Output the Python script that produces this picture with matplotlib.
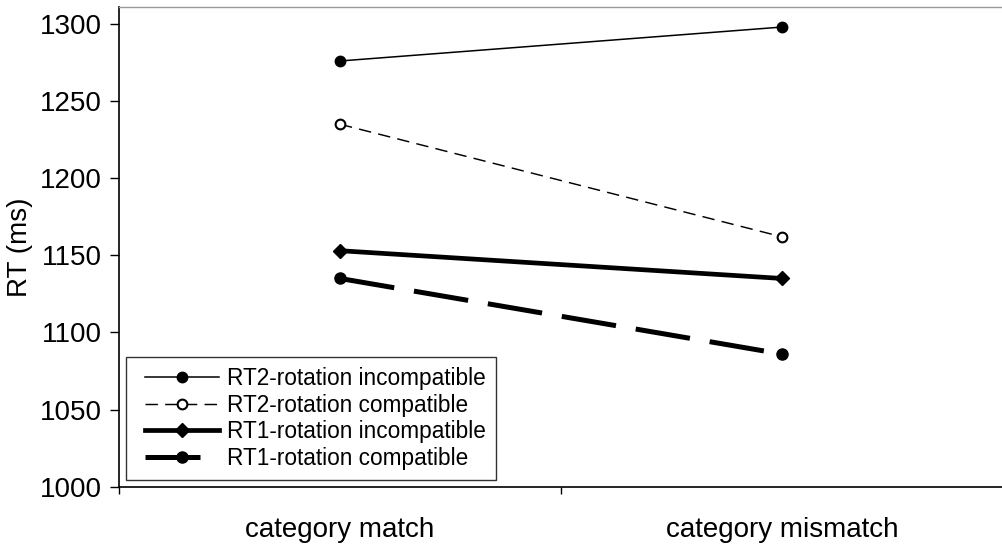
import matplotlib.pyplot as plt
from matplotlib.legend_handler import HandlerLine2D

plt.rcParams['font.family'] = ['Liberation Sans', 'DejaVu Sans']

categories = ['category match', 'category mismatch']
rt2_incompatible = [1276, 1298]
rt2_compatible = [1235, 1162]
rt1_incompatible = [1153, 1135]
rt1_compatible = [1135, 1086]

fig = plt.figure(figsize=(10.03, 5.45), dpi=100)
ax = fig.add_axes([119 / 1003, 1 - 486.7 / 545, 884 / 1003, 479.7 / 545])

x = list(range(len(categories)))

l1, = ax.plot(x, rt2_incompatible, color='black', lw=1.1, marker='o', ms=7.5,
              mfc='black', mec='black', label='RT2-rotation incompatible')
l2, = ax.plot(x, rt2_compatible, color='black', lw=1.05, dashes=(8.5, 5), marker='o', ms=7,
              mfc='white', mec='black', mew=1.5, label='RT2-rotation compatible')
l3, = ax.plot(x, rt1_incompatible, color='black', lw=3.4, marker='D', ms=7,
              mfc='black', mec='black', label='RT1-rotation incompatible')
l4, = ax.plot(x, rt1_compatible, color='black', lw=3.6, dashes=(11, 4), marker='o', ms=8,
              mfc='black', mec='black', label='RT1-rotation compatible')

ax.set_ylim(1000, 1311)
ax.set_xlim(-0.5, -0.5 + 884 / 448)
ax.set_yticks(range(1000, 1301, 50))
ax.tick_params(axis='y', direction='out', length=6.5, width=1, labelsize=20, pad=6)

# boundary ticks without labels, category names at the centres
ax.set_xticks([-0.5, 0.5, 1.5])
ax.set_xticklabels([])
ax.tick_params(axis='x', which='major', direction='out', length=5, width=1)
ax.set_xticks(x, minor=True)
ax.set_xticklabels(categories, minor=True)
ax.tick_params(axis='x', which='minor', length=0, labelsize=20, pad=22)

ax.set_ylabel('RT (ms)', fontsize=20)
ax.yaxis.set_label_coords(-0.097, 0.5)

ax.spines['right'].set_visible(False)
ax.spines['top'].set_color('#999999')
ax.spines['top'].set_linewidth(1)
ax.spines['left'].set_linewidth(1.2)
ax.spines['bottom'].set_linewidth(1.2)

hmap = {l: HandlerLine2D(xpad=0.4) for l in (l1, l2, l3, l4)}
leg = ax.legend(loc='lower left', bbox_to_anchor=(0.008, 0.014), borderaxespad=0,
                fontsize=16.3, fancybox=False, edgecolor='#333333', framealpha=1,
                handlelength=3.65, handletextpad=0.35, labelspacing=0.16, borderpad=0.45,
                handler_map=hmap)
leg.get_frame().set_linewidth(1)

fig.savefig('out.png', dpi=100)
